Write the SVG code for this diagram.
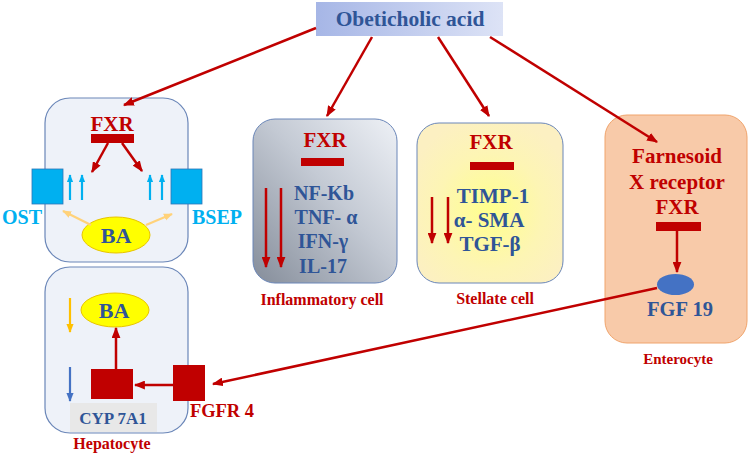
<svg xmlns="http://www.w3.org/2000/svg" width="749" height="455" viewBox="0 0 749 455">
<defs>
<linearGradient id="gTop" x1="0" y1="0" x2="1" y2="0">
<stop offset="0" stop-color="#a6b6e6"/>
<stop offset="1" stop-color="#dde3f6"/>
</linearGradient>
<linearGradient id="gInf" x1="1" y1="0" x2="0" y2="1">
<stop offset="0" stop-color="#eef1f6"/>
<stop offset="0.45" stop-color="#c4cad4"/>
<stop offset="1" stop-color="#858d9a"/>
</linearGradient>
<radialGradient id="gSte" cx="0.5" cy="0.55" r="0.6">
<stop offset="0" stop-color="#ffff8c"/>
<stop offset="0.6" stop-color="#fdf5b4"/>
<stop offset="1" stop-color="#fcf0c2"/>
</radialGradient>
<marker id="mr" viewBox="0 0 10 8" refX="9" refY="4" markerUnits="userSpaceOnUse" markerWidth="11" markerHeight="9" orient="auto"><path d="M0,0 L10,4 L0,8 z" fill="#c00000"/></marker>
<marker id="mc" viewBox="0 0 10 8" refX="9" refY="4" markerUnits="userSpaceOnUse" markerWidth="8" markerHeight="7" orient="auto"><path d="M0,0 L10,4 L0,8 z" fill="#00b0f0"/></marker>
<marker id="my" viewBox="0 0 10 8" refX="9" refY="4" markerUnits="userSpaceOnUse" markerWidth="9" markerHeight="8" orient="auto"><path d="M0,0 L10,4 L0,8 z" fill="#ffd27a"/></marker>
<marker id="mo" viewBox="0 0 10 8" refX="9" refY="4" markerUnits="userSpaceOnUse" markerWidth="9" markerHeight="8" orient="auto"><path d="M0,0 L10,4 L0,8 z" fill="#ffc000"/></marker>
<marker id="mb" viewBox="0 0 10 8" refX="9" refY="4" markerUnits="userSpaceOnUse" markerWidth="9" markerHeight="8" orient="auto"><path d="M0,0 L10,4 L0,8 z" fill="#4472c4"/></marker>
</defs>
<style>
text{font-family:"Liberation Serif","Times New Roman",serif;font-weight:bold;text-anchor:middle}
.red{fill:#c00000}
.blue{fill:#2f5597}
.cyan{fill:#00b0f0}
.hep{fill:#eef2f9;stroke:#6a86b8;stroke-width:1.2}
.ar{stroke:#c00000;stroke-width:2.5;fill:none;marker-end:url(#mr)}
.bar{fill:#c00000}
.lbl{font-size:16px}
</style>

<g id="obeticholic">
<rect x="316" y="2" width="187" height="34" fill="url(#gTop)"/>
<text x="410" y="26" font-size="21.5" class="blue">Obeticholic acid</text>
</g>

<g id="hepatocyte-top">
<rect class="hep" x="45" y="98" width="143" height="164" rx="25"/>
<text x="112" y="131" font-size="21" class="red">FXR</text>
<rect class="bar" x="91" y="134" width="43" height="9"/>
<rect x="32" y="169" width="31" height="35" fill="#00b0f0" stroke="#2e75b6" stroke-width="0.8"/>
<rect x="171" y="169" width="31" height="35" fill="#00b0f0" stroke="#2e75b6" stroke-width="0.8"/>
<text x="22" y="224" font-size="20" class="cyan">OST</text>
<text x="217" y="224" font-size="20" class="cyan">BSEP</text>
<ellipse cx="116" cy="235" rx="34" ry="18" fill="#ffff00" stroke="#e8c400" stroke-width="1"/>
<text x="116" y="243" font-size="22" class="blue">BA</text>
</g>

<g id="hepatocyte-bottom">
<rect class="hep" x="45" y="267" width="143" height="166" rx="25"/>
<ellipse cx="115" cy="310" rx="34" ry="17" fill="#ffff00" stroke="#e8c400" stroke-width="1"/>
<text x="114" y="318" font-size="22" class="blue">BA</text>
<rect x="91" y="369" width="42" height="30" fill="#c00000"/>
<rect x="70" y="403" width="87" height="29" fill="#e8e8e8"/>
<text x="113" y="424" font-size="17" class="blue">CYP 7A1</text>
<text x="112" y="449" class="red lbl">Hepatocyte</text>
</g>

<g id="fgfr4">
<rect x="173" y="365" width="32" height="36" fill="#c00000"/>
<text x="222" y="417" font-size="18.5" class="red">FGFR 4</text>
</g>

<g id="inflammatory">
<rect x="253" y="119" width="144" height="164" rx="22" fill="url(#gInf)" stroke="#6a86b8" stroke-width="1"/>
<text x="325" y="147" font-size="21" class="red">FXR</text>
<rect class="bar" x="301" y="158" width="43" height="8"/>
<text x="324" y="200" font-size="20" class="blue">NF-Kb</text>
<text x="326" y="224" font-size="20" class="blue">TNF- α</text>
<text x="323" y="248" font-size="20" class="blue">IFN-γ</text>
<text x="323" y="273" font-size="20" class="blue">IL-17</text>
<text x="322" y="305" class="red lbl">Inflammatory cell</text>
</g>

<g id="stellate">
<rect x="417" y="123" width="146" height="160" rx="22" fill="url(#gSte)" stroke="#6a86b8" stroke-width="1"/>
<text x="491" y="149" font-size="21" class="red">FXR</text>
<rect class="bar" x="470" y="162" width="44" height="8"/>
<text x="493" y="203" font-size="21" class="blue">TIMP-1</text>
<text x="489" y="227" font-size="21" class="blue">α- SMA</text>
<text x="490" y="251" font-size="21" class="blue">TGF-β</text>
<text x="495" y="304" class="red lbl">Stellate cell</text>
</g>

<g id="enterocyte">
<rect x="605" y="115" width="142" height="228" rx="22" fill="#f8caa9" stroke="#f0a46c" stroke-width="1"/>
<text x="677" y="163" font-size="21" class="red">Farnesoid</text>
<text x="677" y="189" font-size="21" class="red">X receptor</text>
<text x="677" y="214" font-size="21" class="red">FXR</text>
<rect class="bar" x="656" y="222" width="45" height="9"/>
<ellipse cx="675.5" cy="284.5" rx="18.5" ry="10.5" fill="#4472c4"/>
<text x="680" y="316" font-size="20.5" class="blue">FGF 19</text>
<text x="678" y="364" class="red" font-size="15">Enterocyte</text>
</g>

<g id="connectors">
<line class="ar" x1="316" y1="28" x2="124" y2="105"/>
<line class="ar" x1="372" y1="37" x2="327" y2="116"/>
<line class="ar" x1="438" y1="37" x2="489" y2="116"/>
<line class="ar" x1="490" y1="37" x2="657" y2="142"/>
<line class="ar" x1="108" y1="143" x2="92" y2="172"/>
<line class="ar" x1="122" y1="143" x2="142" y2="171"/>
<g stroke="#00b0f0" stroke-width="2.2" marker-end="url(#mc)">
<line x1="70" y1="200" x2="70" y2="175"/>
<line x1="82" y1="200" x2="82" y2="175"/>
<line x1="150" y1="200" x2="150" y2="175"/>
<line x1="162" y1="200" x2="162" y2="175"/>
</g>
<g stroke="#ffd27a" stroke-width="2.2" marker-end="url(#my)">
<line x1="91" y1="225" x2="63" y2="211"/>
<line x1="146" y1="225" x2="172" y2="214"/>
</g>
<line x1="70" y1="298" x2="70" y2="332" stroke="#ffc000" stroke-width="2.2" marker-end="url(#mo)"/>
<line x1="70" y1="367" x2="70" y2="401" stroke="#4472c4" stroke-width="2.2" marker-end="url(#mb)"/>
<line class="ar" x1="116" y1="369" x2="116" y2="328"/>
<line class="ar" x1="173" y1="385" x2="135" y2="385"/>
<line class="ar" x1="657" y1="288" x2="213" y2="384"/>
<line class="ar" x1="266" y1="188" x2="266" y2="267"/>
<line class="ar" x1="281" y1="188" x2="281" y2="267"/>
<line class="ar" x1="432" y1="197" x2="432" y2="243"/>
<line class="ar" x1="448" y1="197" x2="448" y2="243"/>
<line class="ar" x1="677" y1="231" x2="677" y2="272"/>
</g>
</svg>
